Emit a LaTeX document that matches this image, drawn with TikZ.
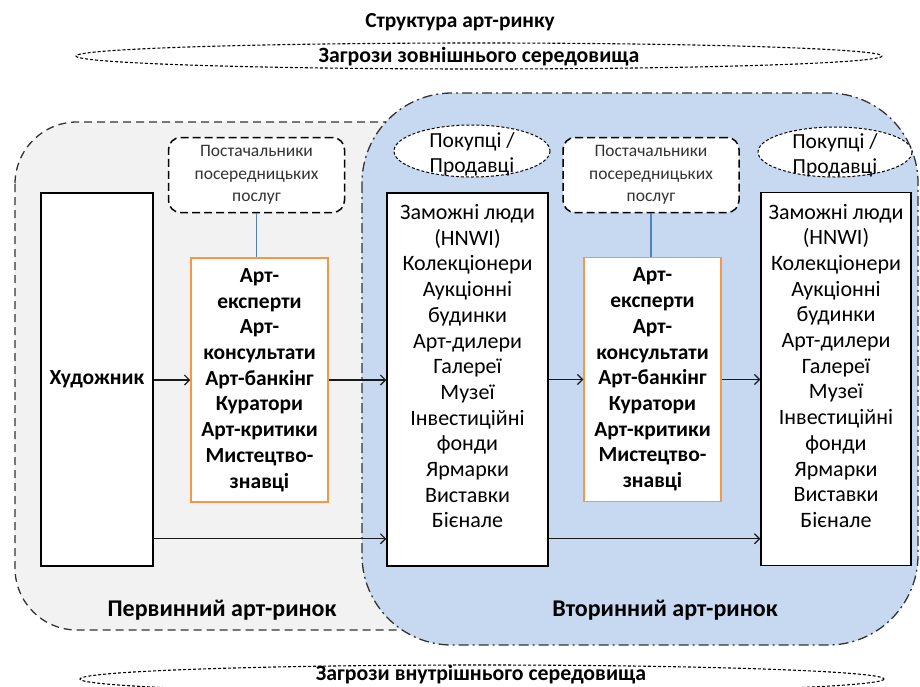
\documentclass[tikz,border=0pt]{standalone}
\usepackage{fontspec}
\setmainfont{Carlito}
\usepackage{xcolor}
\usetikzlibrary{positioning, arrows.meta}
\definecolor{zoneblue}{RGB}{198,217,241}
\definecolor{zonegrey}{RGB}{242,242,242}
\definecolor{boxorange}{RGB}{247,150,70}
\definecolor{linkblue}{RGB}{79,129,189}
\tikzset{
  arr/.style={-{Straight Barb[length=5pt,width=10pt]}, line width=1.2pt, draw=black!90},
  link/.style={draw=linkblue, line width=1.2pt},
  listbox/.style={draw, line width=1.5pt, fill=white, inner sep=0pt, minimum height=373pt},
  listtxt/.style={align=center, inner sep=0pt, font=\fontsize{22}{25.7}\selectfont},
  expbox/.style={draw=boxorange, line width=1.5pt, fill=white, align=center, inner sep=0pt,
    minimum width=137pt, minimum height=244pt, font=\fontsize{21.5}{25.7}\selectfont\bfseries},
  supbox/.style={draw, line width=1.5pt, dash pattern=on 8pt off 4pt, rounded corners=12pt,
    fill=white, align=center, inner sep=0pt, minimum width=176pt, minimum height=75pt,
    text=black!80, font=\fontsize{17.5}{22.5}\selectfont},
  selltxt/.style={align=center, inner sep=0pt, font=\fontsize{21.5}{25}\selectfont},
  sellell/.style={draw, fill=white, line width=1pt, dash pattern=on 3pt off 2pt},
  threat/.style={draw, line width=1.1pt, dash pattern=on 3pt off 2pt},
  thrtxt/.style={font=\fontsize{21.8}{24}\selectfont\bfseries, inner sep=0pt},
  zonelbl/.style={font=\fontsize{24}{28}\selectfont\bfseries, inner sep=0pt},
  greyzone/.style={draw=black!80, fill=zonegrey, line width=1.3pt, dash pattern=on 8pt off 5pt,
    rounded corners=62pt},
  bluezone/.style={draw=black!80, fill=zoneblue, line width=1.3pt,
    dash pattern=on 10pt off 4pt on 2pt off 4pt, rounded corners=90pt}
}

\begin{document}
\begin{tikzpicture}[x=1pt, y=-1pt]
  \useasboundingbox (0,0) rectangle (920,686);
  \clip (0,0) rectangle (920,686);

  % market zones
  \draw[greyzone] (15,122) rectangle (520,630);
  \draw[bluezone] (362,93) rectangle (918,645);

  \node[font=\fontsize{21.4}{25}\selectfont\bfseries, inner sep=0pt] (ttl) at (460,22) {Структура арт-ринку};
  \node[thrtxt] (extthr) at (479,57) {Загрози зовнішнього середовища};
  \draw[threat] (479,56) ellipse [x radius=403, y radius=13];

  % primary market
  \node[listbox, minimum width=112pt] (artist) at (97,379.5) {\fontsize{21.5}{25.7}\selectfont\bfseries Художник};
  \node[supbox] (sup1) at (256.5,175) {Постачальники\\посередницьких\\послуг};
  \node[expbox] (exp1) at (259.5,380) {Арт-\\експерти\\Арт-\\консультати\\Арт-банкінг\\Куратори\\Арт-критики\\Мистецтво-\\знавці};

  % secondary market
  \node[listbox, minimum width=161pt] (buy1) at (467.5,379.5) {};
  \node[listtxt, below=12pt of buy1.north] (buy1txt) {Заможні люди\\(HNWI)\\Колекціонери\\Аукціонні\\будинки\\Арт-дилери\\Галереї\\Музеї\\Інвестиційні\\фонди\\Ярмарки\\Виставки\\Бієнале};
  \draw[sellell] (472,151) ellipse [x radius=78, y radius=26];
  \node[selltxt] (sell1) at (472,154) {Покупці /\\Продавці};

  \node[supbox] (sup2) at (651,175) {Постачальники\\посередницьких\\послуг};
  \node[expbox] (exp2) at (652.5,379.5) {Арт-\\експерти\\Арт-\\консультати\\Арт-банкінг\\Куратори\\Арт-критики\\Мистецтво-\\знавці};

  \node[listbox, minimum width=150pt] (buy2) at (836,379) {};
  \node[listtxt, below=12pt of buy2.north] (buy2txt) {Заможні люди\\(HNWI)\\Колекціонери\\Аукціонні\\будинки\\Арт-дилери\\Галереї\\Музеї\\Інвестиційні\\фонди\\Ярмарки\\Виставки\\Бієнале};
  \draw[sellell] (835,152) ellipse [x radius=77, y radius=25];
  \node[selltxt] (sell2) at (835,155) {Покупці /\\Продавці};

  \node[zonelbl] (prim) at (222,610) {Первинний арт-ринок};
  \node[zonelbl] (secd) at (665,610) {Вторинний арт-ринок};

  % links
  \draw[link] (sup1.south) -- (sup1.south |- exp1.north);
  \draw[link] (sup2.south) -- (sup2.south |- exp2.north);
  \draw[arr] (artist.east |- exp1.west) -- (exp1.west);
  \draw[arr] (exp1.east) -- (exp1.east -| buy1.west);
  \draw[arr] (buy1.east |- exp2.west) -- (exp2.west);
  \draw[arr] (exp2.east) -- (exp2.east -| buy2.west);
  \draw[arr] ([yshift=28pt]artist.south east) -- ([yshift=28pt]artist.south east -| buy1.west);
  \draw[arr] ([yshift=28pt]buy1.south east) -- ([yshift=28pt]buy1.south east -| buy2.west);

  \node[thrtxt] (intthr) at (481,675) {Загрози внутрішнього середовища};
  \draw[threat] (482,679) ellipse [x radius=402, y radius=14];
\end{tikzpicture}
\end{document}
